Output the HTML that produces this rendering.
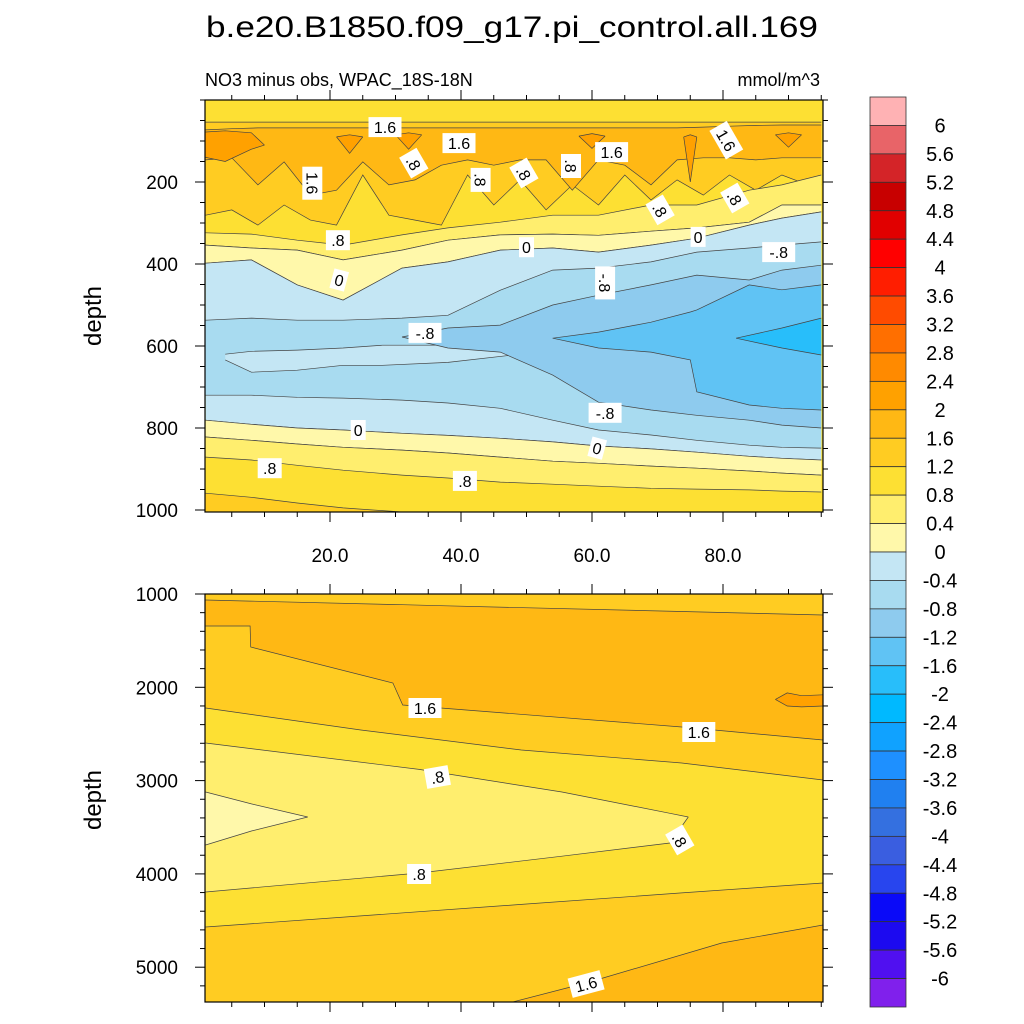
<!DOCTYPE html>
<html><head><meta charset="utf-8"><style>
html,body{margin:0;padding:0;background:#fff;}
svg{display:block;font-family:"Liberation Sans",sans-serif;}
</style></head><body>
<svg id="chart" width="1024" height="1024" viewBox="0 0 1024 1024" xmlns="http://www.w3.org/2000/svg">
<defs>
<clipPath id="clipTop"><rect x="205" y="100" width="618" height="412"/></clipPath>
<clipPath id="clipBot"><rect x="205" y="594" width="618" height="408"/></clipPath>
</defs>
<text x="512" y="37" font-size="30" text-anchor="middle" textLength="612" lengthAdjust="spacingAndGlyphs">b.e20.B1850.f09_g17.pi_control.all.169</text>
<text x="205" y="86" font-size="18">NO3 minus obs, WPAC_18S-18N</text>
<text x="820" y="86" font-size="18" text-anchor="end">mmol/m^3</text>
<text transform="translate(101,316) rotate(-90)" font-size="24" text-anchor="middle">depth</text>
<text transform="translate(101,800) rotate(-90)" font-size="24" text-anchor="middle">depth</text>
<g id="topPanel"></g>
<g id="botPanel"></g>
<g id="cbar"></g>
</svg>
<script>
// ---- colour levels ----
const cbarColors=["#ffb2b4","#e86468","#d42428","#c80000","#e10000","#ff0000","#ff1e00","#ff4b00","#ff6f00","#ff8a00","#ffa100","#ffb814","#ffcc22","#fde033","#ffee6e","#fff8aa","#c4e6f4","#a8dbf0","#8ecbee","#60c3f4","#28befa","#00b9ff","#10a2ff","#1e90ff","#2080f0","#3470e0","#3a5ee0","#2845ee","#0a0af8","#1c0af0","#5010f0","#8020ec"];
const cbarLevels=[6,5.6,5.2,4.8,4.4,4,3.6,3.2,2.8,2.4,2,1.6,1.2,0.8,0.4,0,-0.4,-0.8,-1.2,-1.6,-2,-2.4,-2.8,-3.2,-3.6,-4,-4.4,-4.8,-5.2,-5.6,-6];

// ---- upper panel (0-1000 m) contour band data: x index, depth ----
const xTopTicks=[20,40,60,80];
const xTopTickLabels=["20.0","40.0","60.0","80.0"];
const dTopTicks=[200,400,600,800,1000];
const XN=[1,8,15,22,31,38,46,54,61,69,76,84,89,95];
const upperZero=[398,390,451,488,410,395,366,361,371,354,337,305,288,273];
const upper04=[354,361,366,390,366,342,329,327,330,320,312,298,256,256];
const upper08=[324,327,342,354,329,312,298,281,281,256,256,220,207,183];
const lowerZero=[781,791,800,805,813,818,825,834,844,851,859,869,874,878];
const lower04=[822,830,839,847,854,861,871,881,886,893,898,905,910,915];
const lower08=[871,878,891,903,915,922,932,937,942,947,949,951,954,956];
const lower12X=[1,8,15,22,31];
const lower12=[959,969,983,995,1005];
const bottomEdge=[1010,1010,1010,1010,1010];
const neg04Top=[537,532,537,537,532,525,464,415,410,395,371,361,354,346];
const neg04Bot=[720,720,725,727,732,739,752,781,805,817,830,842,847,849];
const gapX=[4,8,15,22,28,38,49];
const gapTop=[620,613,610,605,598,598,620];
const gapBot=[634,664,659,647,647,640,620];
const neg08X=[31,38,46,54,61,69,76,84,89,95];
const neg08Top=[578,556,549,500,476,451,427,439,415,403];
const neg08Bot=[578,605,615,671,737,756,769,781,793,800];
const neg12X=[54,61,69,75,76,84,89,95];
const neg12Top=[581,566,542,517,512,451,463,451];
const neg12Bot=[581,605,615,634,712,744,752,756];
const neg16X=[82,89,95];
const neg16Top=[581,556,532];
const neg16Bot=[581,605,622];
const b12X=[1,5,9,13,17,21,25,29,33,37,41,45,49,53,57,61,65,69,73,77,81,85,89,93,95];
const b12Top=[54,54,54,54,54,54,54,54,54,54,54,54,54,54,54,54,54,54,54,54,54,54,54,54,54];
const b12Bot=[281,268,305,256,293,305,183,281,293,305,183,256,195,268,207,256,183,244,195,232,183,220,183,207,207];
const b16Top=[73,70,68,68,68,68,68,68,68,68,68,68,68,68,68,68,68,68,68,66,64,62,61,61,61];
const b16Bot=[146,141,207,151,232,220,151,207,195,159,146,159,146,146,220,146,159,207,146,141,141,146,141,141,141];
const o1X=[1,4,8,10];const o1Top=[78,75,80,110];const o1Bot=[140,150,120,110];
const o2X=[21,23,25];const o2Top=[90,85,90];const o2Bot=[90,130,90];
const o3X=[30,32,34];const o3Top=[85,80,85];const o3Bot=[85,120,85];
const o4X=[74,75,76];const o4Top=[90,85,90];const o4Bot=[90,200,90];
const o5X=[88,90,92];const o5Top=[85,80,85];const o5Bot=[85,115,85];
const o6X=[58,60,62];const o6Top=[88,82,88];const o6Bot=[88,118,88];

// ---- lower panel (1000-5400 m) ----
const dBotTicks=[1000,2000,3000,4000,5000];
const p16X=[1,7.8,7.9,29.6,31.1,36.9,73.7,95.3];
const p16Top=[1064,1076,1076,1113,1115,1125,1188,1225];
const p16Bot=[1343,1343,1568,1954,2190,2222,2425,2565];
const p20X=[88,89.8,92,95.3];const p20Top=[2130,2060,2090,2080];const p20Bot=[2130,2200,2210,2200];
const p12X=[1,24.7,49.2,73.7,95.3];
const p12Top=[2222,2458,2672,2811,2994];
const p12Bot=[4569,4450,4327,4204,4098];
const p08X=[1,33.6,55.4,71.9,74.7];
const p08Top=[2597,2880,3122,3350,3390];
const p08Bot=[4194,3990,3810,3669,3390];
const p04X=[1,8,16.6];const p04Top=[3122,3250,3390];const p04Bot=[3690,3540,3390];
const q16X=[44,47.3,59.1,79.8,95.3];
const q16Top=[5420,5384,5169,4741,4548];
const q16Bot=[5420,5420,5420,5420,5420];

// ---- contour labels ----
const topLabText=["1.6","1.6","1.6","1.6","1.6",".8",".8",".8",".8",".8",".8",".8","0","0","-.8","0","-.8","-.8","-.8","0","0",".8",".8"];
const topLabX=[28.4,39.7,63,80.5,17.3,32.8,43,49.6,56.8,70.4,81.8,21.2,50,76.2,88.5,21.4,62,34.5,62,24.3,60.8,10.8,40.6];
const topLabD=[66,105,127,98,203,154,195,178,161,268,239,342,359,334,371,439,446,568,763,805,849,898,929];
const topLabRot=[0,0,0,60,90,60,90,60,90,60,60,0,0,0,0,15,90,0,0,0,15,0,0];
const botLabText=["1.6","1.6",".8",".8",".8","1.6"];
const botLabX=[34.5,76.3,36.4,73.4,33.6,59.1];
const botLabD=[2222,2479,2961,3637,4001,5180];
const botLabRot=[0,0,-10,60,0,-15];

const NS="http://www.w3.org/2000/svg";
function mk(tag,attrs,parent){const e=document.createElementNS(NS,tag);for(const k in attrs)e.setAttribute(k,attrs[k]);parent.appendChild(e);return e;}
const xS=x=>199+6.55*x;
const yT=d=>100+0.41*d;
const yB=d=>594+(d-1000)*0.0933;

function band(g,xs,top,bot,fill,yS,name){
  let pts=[];
  for(let i=0;i<xs.length;i++)pts.push(xS(xs[i]).toFixed(1)+","+yS(top[i]).toFixed(1));
  for(let i=xs.length-1;i>=0;i--)pts.push(xS(xs[i]).toFixed(1)+","+yS(bot[i]).toFixed(1));
  const p=mk("polygon",{points:pts.join(" "),fill:fill},g);
  
  
  [top,bot].forEach(arr=>{
    const l=mk("polyline",{points:xs.map((x,i)=>xS(x).toFixed(1)+","+yS(arr[i]).toFixed(1)).join(" "),fill:"none",stroke:"#444",'stroke-width':"0.7"},g);
    
    
  });
}
function label(g,txt,x,y,rot){
  const gg=mk("g",{transform:`translate(${x.toFixed(1)},${y.toFixed(1)}) rotate(${rot})`},g);
  
  
  const w=txt.length*9+6;
  mk("rect",{x:-w/2,y:-10,width:w,height:20,fill:"#fff"},gg);
  mk("text",{x:0,y:6,'font-size':"16",'text-anchor':"middle"},gg).textContent=txt;
}
function axes(g,top,bottom,yS,dMin,dMax,major,minorStep,showX){
  mk("rect",{x:205,y:top,width:618,height:bottom-top,fill:"none",stroke:"#000",'stroke-width':"1.2"},g);
  for(let x=5;x<=95;x+=5){
    const px=xS(x),len=(x%20===0)?10:5;
    mk("line",{x1:px,y1:bottom,x2:px,y2:bottom+len,stroke:"#000",'stroke-width':"1"},g);
    mk("line",{x1:px,y1:top,x2:px,y2:top-len,stroke:"#000",'stroke-width':"1"},g);
  }
  for(let d=Math.ceil(dMin/minorStep)*minorStep;d<=dMax;d+=minorStep){
    const py=yS(d);if(py<top-0.5||py>bottom+0.5)continue;
    const len=(major.indexOf(d)>=0)?10:5;
    mk("line",{x1:205,y1:py,x2:205-len,y2:py,stroke:"#000",'stroke-width':"1"},g);
    mk("line",{x1:823,y1:py,x2:823+len,y2:py,stroke:"#000",'stroke-width':"1"},g);
  }
  major.forEach(d=>{
    const t=mk("text",{x:178,y:yS(d)+7,'font-size':"19",'text-anchor':"end"},g);
    t.textContent=d;
    
    
  });
  if(showX){
    xTopTicks.forEach((x,i)=>{
      const t=mk("text",{x:xS(x),y:bottom+50,'font-size':"19",'text-anchor':"middle"},g);
      t.textContent=xTopTickLabels[i];
      
      
    });
  }
}
// upper panel
const gT=document.getElementById("topPanel");
const cT=mk("g",{'clip-path':"url(#clipTop)"},gT);
mk("rect",{x:205,y:100,width:618,height:412,fill:"#fde033"},cT);
band(cT,b12X,b12Top,b12Bot,"#ffcc22",yT,"band-1.2-1.6");
band(cT,b12X,b16Top,b16Bot,"#ffb814",yT,"band-1.6-2");
[[o1X,o1Top,o1Bot],[o2X,o2Top,o2Bot],[o3X,o3Top,o3Bot],[o4X,o4Top,o4Bot],[o5X,o5Top,o5Bot],[o6X,o6Top,o6Bot]].forEach(a=>band(cT,a[0],a[1],a[2],"#ffa100",yT,"band-2-2.4"));
band(cT,XN,upper08,upper04,"#ffee6e",yT,"band-0.4-0.8");
band(cT,XN,upper04,upperZero,"#fff8aa",yT,"band-0-0.4");
band(cT,XN,upperZero,lowerZero,"#c4e6f4",yT,"band-neg0.4-0");
band(cT,XN,neg04Top,neg04Bot,"#a8dbf0",yT,"band-neg0.8");
band(cT,gapX,gapTop,gapBot,"#c4e6f4",yT,"band-neg0.4-0");
band(cT,neg08X,neg08Top,neg08Bot,"#8ecbee",yT,"band-neg1.2");
band(cT,neg12X,neg12Top,neg12Bot,"#60c3f4",yT,"band-neg1.6");
band(cT,neg16X,neg16Top,neg16Bot,"#28befa",yT,"band-neg2");
band(cT,XN,lowerZero,lower04,"#fff8aa",yT,"band-0-0.4");
band(cT,XN,lower04,lower08,"#ffee6e",yT,"band-0.4-0.8");
band(cT,lower12X,lower12,bottomEdge,"#ffcc22",yT,"band-1.2-1.6");
topLabText.forEach((t,i)=>label(cT,t,xS(topLabX[i]),yT(topLabD[i]),topLabRot[i]));
axes(gT,100,512,yT,0,1000,dTopTicks,50,true);
// lower panel
const gB=document.getElementById("botPanel");
const cB=mk("g",{'clip-path':"url(#clipBot)"},gB);
mk("rect",{x:205,y:594,width:618,height:408,fill:"#ffcc22"},cB);
band(cB,p16X,p16Top,p16Bot,"#ffb814",yB,"band-1.6-2");
band(cB,p20X,p20Top,p20Bot,"#ffa100",yB,"band-2-2.4");
band(cB,p12X,p12Top,p12Bot,"#fde033",yB,"band-0.8-1.2");
band(cB,p08X,p08Top,p08Bot,"#ffee6e",yB,"band-0.4-0.8");
band(cB,p04X,p04Top,p04Bot,"#fff8aa",yB,"band-0-0.4");
band(cB,q16X,q16Top,q16Bot,"#ffb814",yB,"band-1.6-2");
botLabText.forEach((t,i)=>label(cB,t,xS(botLabX[i]),yB(botLabD[i]),botLabRot[i]));
axes(gB,594,1002,yB,1000,5400,dBotTicks,200,false);
// colorbar
const gC=document.getElementById("cbar");
const bh=(1007-97)/cbarColors.length;
cbarColors.forEach((c,i)=>{
  const r=mk("rect",{x:870,y:97+i*bh,width:36,height:bh,fill:c,stroke:"#333",'stroke-width':"0.8"},gC);
  
  
});
cbarLevels.forEach((v,i)=>{
  let s=(Math.round(v*10)/10).toString();
  const t=mk("text",{x:940,y:97+(i+1)*bh+7,'font-size':"20",'text-anchor':"middle"},gC);
  t.textContent=s;
  
  
});
</script>
</body></html>
